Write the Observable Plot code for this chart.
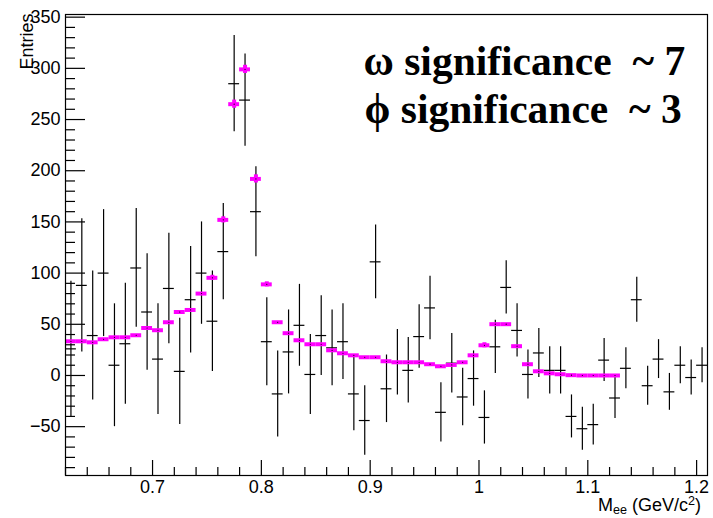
<!DOCTYPE html>
<html><head><meta charset="utf-8">
<script src="https://cdn.jsdelivr.net/npm/d3@7"></script>
<script src="https://cdn.jsdelivr.net/npm/@observablehq/plot@0.6"></script>
<style>html,body{margin:0;padding:0;background:#fff}#chart svg{display:block}</style>
</head><body><div id="chart"></div>
<script>
const binCenters = [0.625,0.635,0.645,0.655,0.665,0.675,0.685,0.695,0.705,0.715,
  0.725,0.735,0.745,0.755,0.765,0.775,0.785,0.795,0.805,0.815,
  0.825,0.835,0.845,0.855,0.865,0.875,0.885,0.895,0.905,0.915,
  0.925,0.935,0.945,0.955,0.965,0.975,0.985,0.995,1.005,1.015,
  1.025,1.035,1.045,1.055,1.065,1.075,1.085,1.095,1.105,1.115,
  1.125,1.135,1.145,1.155,1.165,1.175,1.185,1.195,1.205];
const counts = [26,88,39,100,10,31,105,62,16,85,
  4,74,100,53,121,285,269,160,33,-18,
  23,49,1,39,27,33,-18,-44,111,-13,
  13,5,38,66,-36,12,-21,-3,-41,28,
  86,44,1,22,5,5,-40,-52,-48,15,
  -22,7,74,-10,16,-16,10,-2,10];
const countErrors = [66,65,63,62,60,59,58,57,54,54,
  52,52,50,49,47,47,45,44,43,42,
  41,40,39,39,37,37,36,34,36,33,
  32,32,31,31,29,29,28,27,26,26,
  26,26,24,24,23,23,21,21,20,21,
  20,20,22,19,19,18,18,17,17];
const fitValues = [33.4,33.4,32.4,35.4,37.3,37.3,39.3,46.4,44.2,52,
  62,64,80,95.4,152,265,299,192,89,52,
  41.3,34.4,30.5,30.5,24.6,21.7,19.7,17.8,17.8,13.9,
  12.9,12.9,12.9,11,9,10.3,12.9,19.7,29.5,50.1,
  50.1,28.6,11,4.1,2.1,1.2,0.3,0,0,0,
  0];
const fitErrors = [1,1,1,1,1,1,1,1,1,1,
  2,2,2,2.5,3,4,4,4,2.5,1,
  1,1,1,1,1,1,1,1,1,1,
  1,1,1,1,1,1,1,1,2.5,2,
  2,1,1,1,1,1,1,1,1,1,
  1];
const binWidth = 0.01;
const xMajorTicks = [0.7,0.8,0.9,1.0,1.1,1.2];
const xMajorLabels = ["0.7","0.8","0.9","1","1.1","1.2"];
const xMinorTicks = [0.62,0.64,0.66,0.68,0.72,0.74,0.76,0.78,0.82,0.84,0.86,0.88,0.92,0.94,0.96,0.98,1.02,1.04,1.06,1.08,1.12,1.14,1.16,1.18];
const yMajorTicks = [-50,0,50,100,150,200,250,300,350];
const yMinorTicks = [-90,-80,-70,-60,-40,-30,-20,-10,10,20,30,40,60,70,80,90,110,120,130,140,160,170,180,190,210,220,230,240,260,270,280,290,310,320,330,340];
const annotations = ["ω significance  ~ 7", "ϕ significance  ~ 3"];
const yTitle = "Entries";

const data = binCenters.map((x, i) => ({x, y: counts[i], e: countErrors[i]}));
const fit = fitValues.map((y, i) => ({x: binCenters[i], y, e: fitErrors[i]}));
const sans = "'Liberation Sans', Arial, Helvetica, sans-serif";
const serif = "'Liberation Serif', 'Times New Roman', serif";

const plot = Plot.plot({
  width: 713, height: 518,
  marginLeft: 65, marginRight: 6, marginTop: 14, marginBottom: 43,
  x: {domain: [0.62, 1.21], label: null},
  y: {domain: [-97.7, 352.6], label: null},
  style: {fontFamily: sans, fontSize: "18px", color: "black", background: "white"},
  marks: [
    Plot.ruleX(data, {x: "x", y1: d => d.y - d.e, y2: d => d.y + d.e, stroke: "black", strokeWidth: 1.2}),
    Plot.ruleY(data, {y: "y", x1: d => d.x - binWidth / 2, x2: d => d.x + binWidth / 2, stroke: "black", strokeWidth: 1.2}),
    Plot.ruleY(fit, {y: "y", x1: d => d.x - binWidth / 2, x2: d => d.x + binWidth / 2, stroke: "#ff00ff", strokeWidth: 4}),
    Plot.ruleX(fit, {filter: d => d.e > 2, x: "x", y1: d => d.y - d.e, y2: d => d.y + d.e, stroke: "#ff00ff", strokeWidth: 4}),
    Plot.dot(fit, {x: "x", y: "y", r: 0.6, fill: "black", stroke: null}),
    Plot.frame({stroke: "black", strokeWidth: 1.2}),
    Plot.axisX(xMinorTicks, {tickSize: -8, text: null, label: null, strokeWidth: 1.2}),
    Plot.axisX(xMajorTicks, {tickSize: -15, text: null, label: null, strokeWidth: 1.2}),
    Plot.axisX(xMajorTicks, {tickSize: 0, tickPadding: 5, label: null, fontSize: 18,
      tickFormat: d => xMajorLabels[xMajorTicks.indexOf(d)]}),
    Plot.axisY(yMinorTicks, {tickSize: -10, text: null, label: null, strokeWidth: 1.2}),
    Plot.axisY(yMajorTicks, {tickSize: -20, text: null, label: null, strokeWidth: 1.2}),
    Plot.axisY(yMajorTicks, {tickSize: 0, tickPadding: 5, label: null, fontSize: 18}),
    Plot.text([yTitle], {text: d => d, frameAnchor: "top-left", rotate: -90, textAnchor: "end",
      dx: -45, dy: -1, fontSize: 18, fontFamily: sans}),
    Plot.text([annotations[0]], {text: d => d, frameAnchor: "top-left", textAnchor: "start", lineAnchor: "bottom",
      dx: 298, dy: 60, fontSize: 41.5, fontWeight: "bold", fontFamily: serif}),
    Plot.text([annotations[1]], {text: d => d, frameAnchor: "top-left", textAnchor: "start", lineAnchor: "bottom",
      dx: 299, dy: 108, fontSize: 41.5, fontWeight: "bold", fontFamily: serif})
  ]
});
document.getElementById("chart").appendChild(plot);

// x-axis title with subscript / superscript
const svg = d3.select(plot);
const t = svg.append("text")
  .attr("x", 701).attr("y", 511)
  .attr("text-anchor", "end")
  .attr("font-family", sans).attr("font-size", 18).attr("fill", "black");
t.append("tspan").text("M");
t.append("tspan").attr("font-size", 12.6).attr("dy", 3).text("ee");
t.append("tspan").attr("dy", -3).text(" (GeV/c");
t.append("tspan").attr("font-size", 12.6).attr("dy", -6).text("2");
t.append("tspan").attr("dy", 6).text(")");
</script>
</body></html>
